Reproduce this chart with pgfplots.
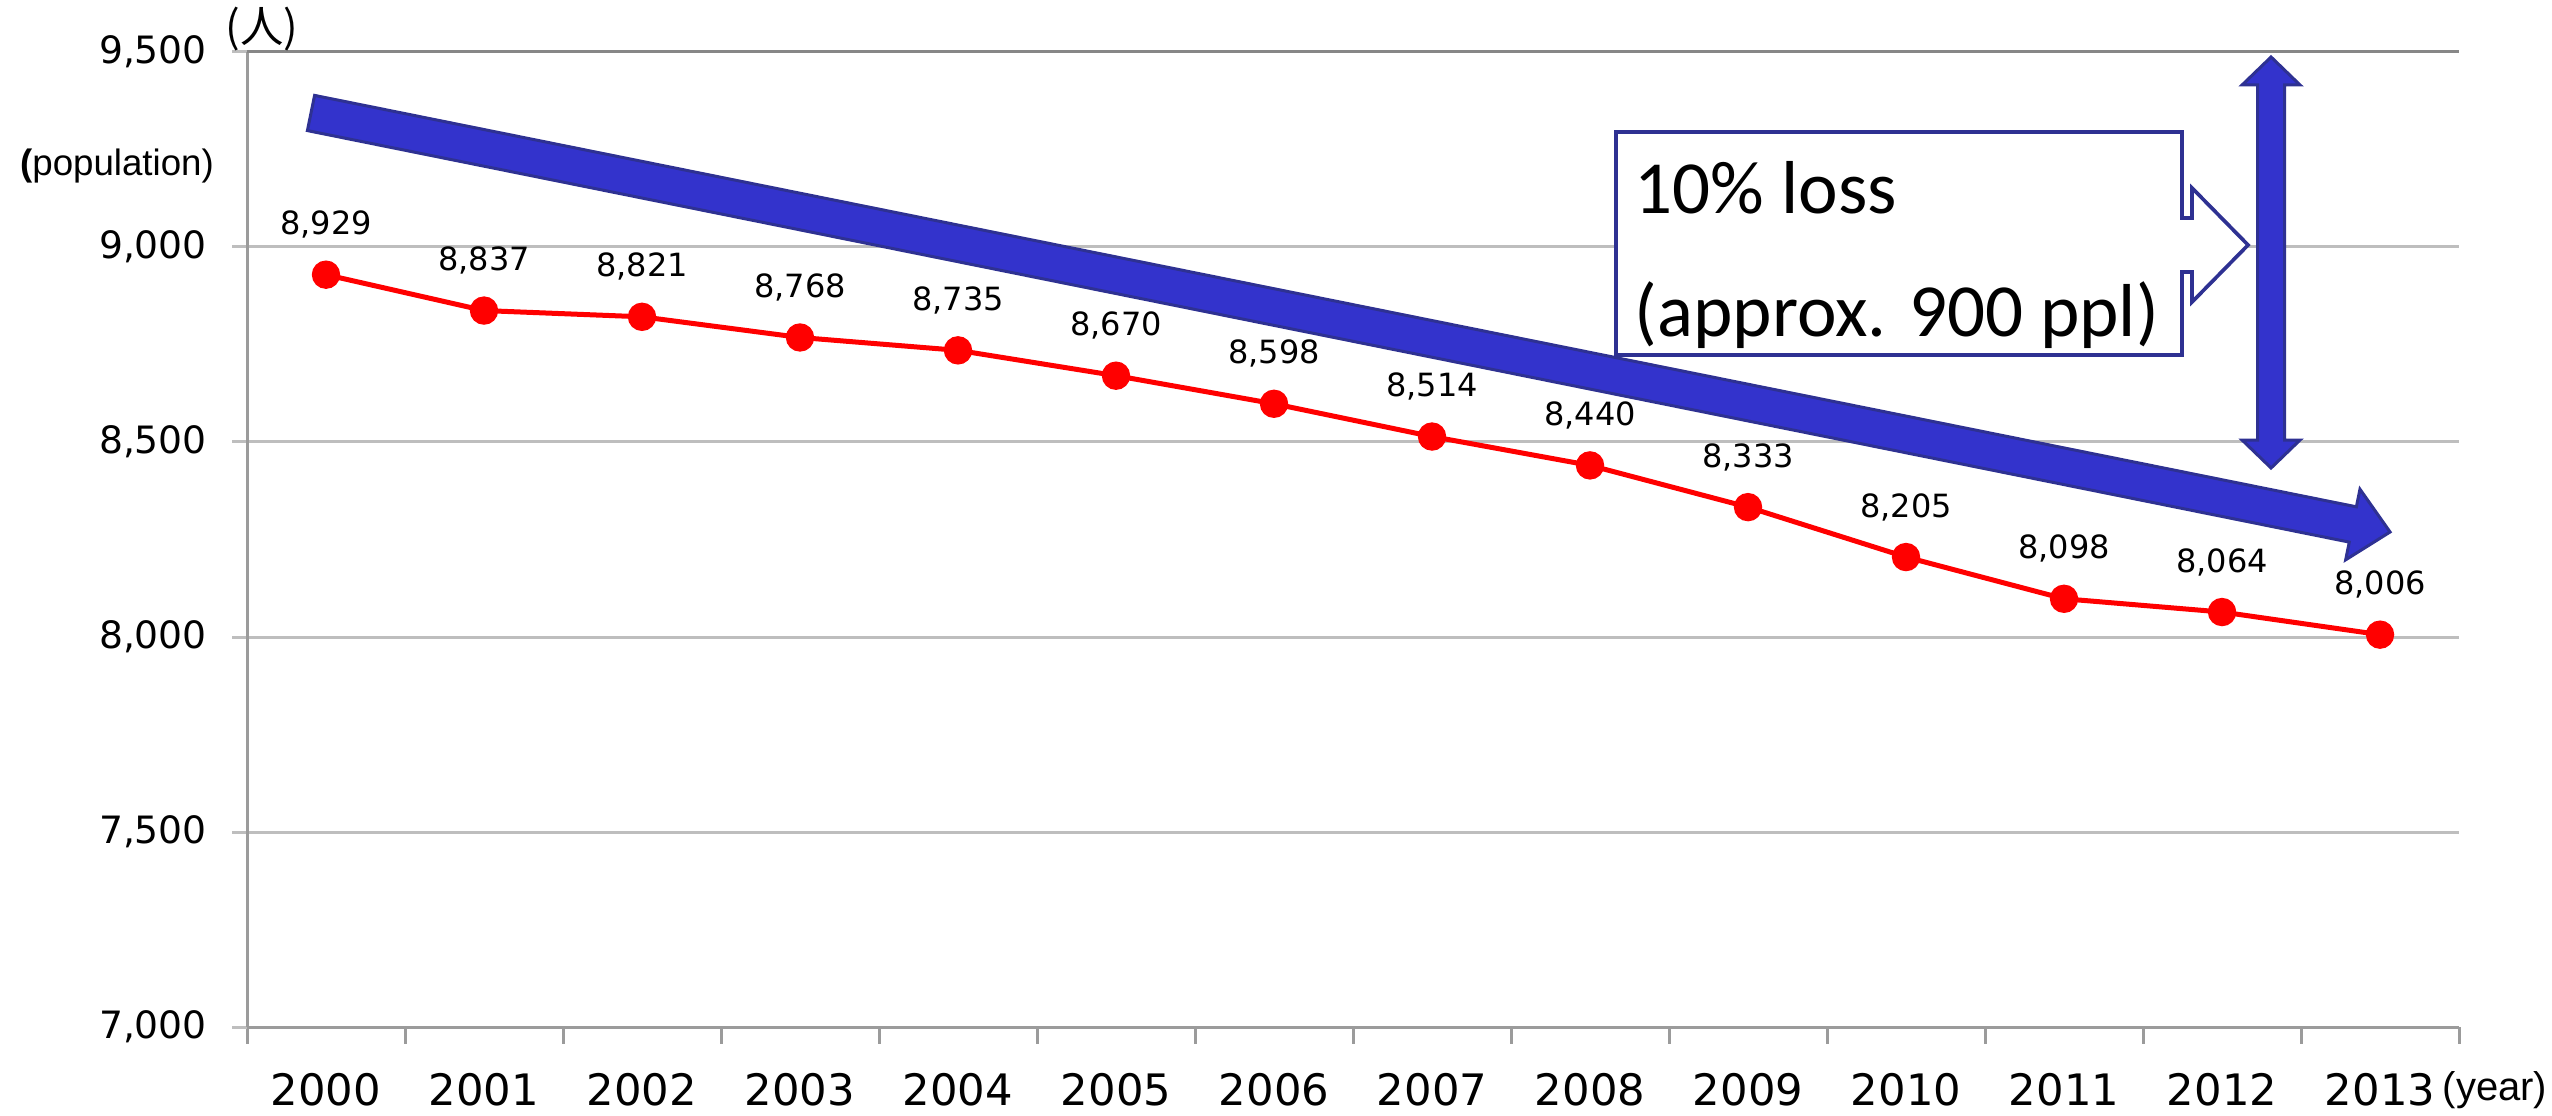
\documentclass[border=0pt]{standalone}
\usepackage{fontspec}
\setmainfont{DejaVu Sans}
\newfontfamily\arialf{Liberation Sans}
\newfontfamily\calibrif{Carlito}
\newfontfamily\cjkf{Noto Sans CJK JP}
\usepackage{pgfplots}
\pgfplotsset{compat=1.18}
\definecolor{arrowfill}{RGB}{51,51,204}
\definecolor{arrowdraw}{RGB}{46,49,146}
\definecolor{gridc}{RGB}{190,190,190}
\definecolor{axisc}{RGB}{155,155,155}
\definecolor{topc}{RGB}{135,135,135}
\begin{document}
\begin{tikzpicture}
\begin{axis}[
 scale only axis,
 width=663.6pt, height=292.5pt,
 xmin=-0.5, xmax=13.5, ymin=7000, ymax=9500,
 axis x line=bottom, axis y line=left,
 axis line style={-, draw=axisc, line width=0.9pt},
 xtick={0,...,13},
 xticklabels={2000,2001,2002,2003,2004,2005,2006,2007,2008,2009,2010,2011,2012,2013},
 major x tick style={draw=none},
 minor xtick={-0.5,0.5,1.5,2.5,3.5,4.5,5.5,6.5,7.5,8.5,9.5,10.5,11.5,12.5,13.5},
 minor tick length=5pt,
 minor x tick style={draw=axisc, line width=0.9pt},
 ytick={7000,7500,8000,8500,9000,9500},
 tick align=outside,
 major tick length=4.5pt,
 ytick style={draw=gridc, line width=0.9pt},
 ymajorgrids,
 grid style={draw=gridc, line width=0.9pt},
 /pgf/number format/1000 sep={,},
 /pgf/number format/fixed,
 /pgf/number format/precision=0,
 /pgf/number format/assume math mode=true,
 yticklabel style={font=\fontsize{11.3}{13}\selectfont, xshift=-4pt},
 xticklabel style={font=\fontsize{13}{15}\selectfont, yshift=-6pt},
 clip=false,
]
\draw[topc, line width=0.9pt] (axis cs:-0.5,9500) -- (axis cs:13.5,9500);
\addplot[color=red, line width=1.5pt, mark=*, mark size=3.5pt,
  mark options={fill=red, draw=red, solid},
  nodes near coords, nodes near coords align={center},
  every node near coord/.append style={font=\fontsize{9.6}{11}\selectfont, text=black, yshift=15pt}]
 coordinates {
 (0,8929) (1,8837) (2,8821) (3,8768) (4,8735) (5,8670) (6,8598)
 (7,8514) (8,8440) (9,8333) (10,8205) (11,8098) (12,8064) (13,8006)
 };
\coordinate (TL) at (axis description cs:-0.11166,1.05333);
\coordinate (BR) at (axis description cs:1.04204,-0.09026);
\end{axis}
\begin{scope}[shift={(TL)}, x=0.3pt, y=-0.3pt]
 % big diagonal arrow
 \filldraw[fill=arrowfill, draw=arrowdraw, line width=0.9pt, line join=miter]
  (314.6,95.4) -- (2356.3,506.8) -- (2359.9,489.2) -- (2390,532)
  -- (2345.6,559.8) -- (2349.2,542.1) -- (307.4,130.6) -- cycle;
 % vertical double arrow
 \filldraw[fill=arrowfill, draw=arrowdraw, line width=0.9pt, line join=miter]
  (2271,57) -- (2300,85) -- (2284.5,85) -- (2284.5,440) -- (2300,440)
  -- (2271,468) -- (2242,440) -- (2257.5,440) -- (2257.5,85) -- (2242,85) -- cycle;
 % callout
 \filldraw[fill=white, draw=arrowdraw, line width=1.1pt, line join=miter]
  (1616,132) -- (2182,132) -- (2182,218) -- (2192,218) -- (2192,188)
  -- (2248,245) -- (2192,302) -- (2192,272) -- (2182,272) -- (2182,355)
  -- (1616,355) -- cycle;
 \node[anchor=base west, inner sep=0, font=\calibrif\fontsize{22.5}{26}\selectfont] at (1634,214) {10\% loss};
 \node[anchor=base west, inner sep=0, font=\calibrif\fontsize{22.5}{26}\selectfont] at (1634,336) {(approx. 900 ppl)};
 \node[inner sep=0, font=\cjkf\fontsize{13}{15}\selectfont] at (262,29) {(人)};
 \node[inner sep=0, font=\arialf\fontsize{11}{13}\selectfont] at (117,166) {{\bfseries (}population)};
 \node[inner sep=0, font=\arialf\fontsize{12}{14}\selectfont] at (2495,1090) {(year)};
\end{scope}
\pgfresetboundingbox
\path[use as bounding box] (TL) rectangle (BR);
\end{tikzpicture}
\end{document}
